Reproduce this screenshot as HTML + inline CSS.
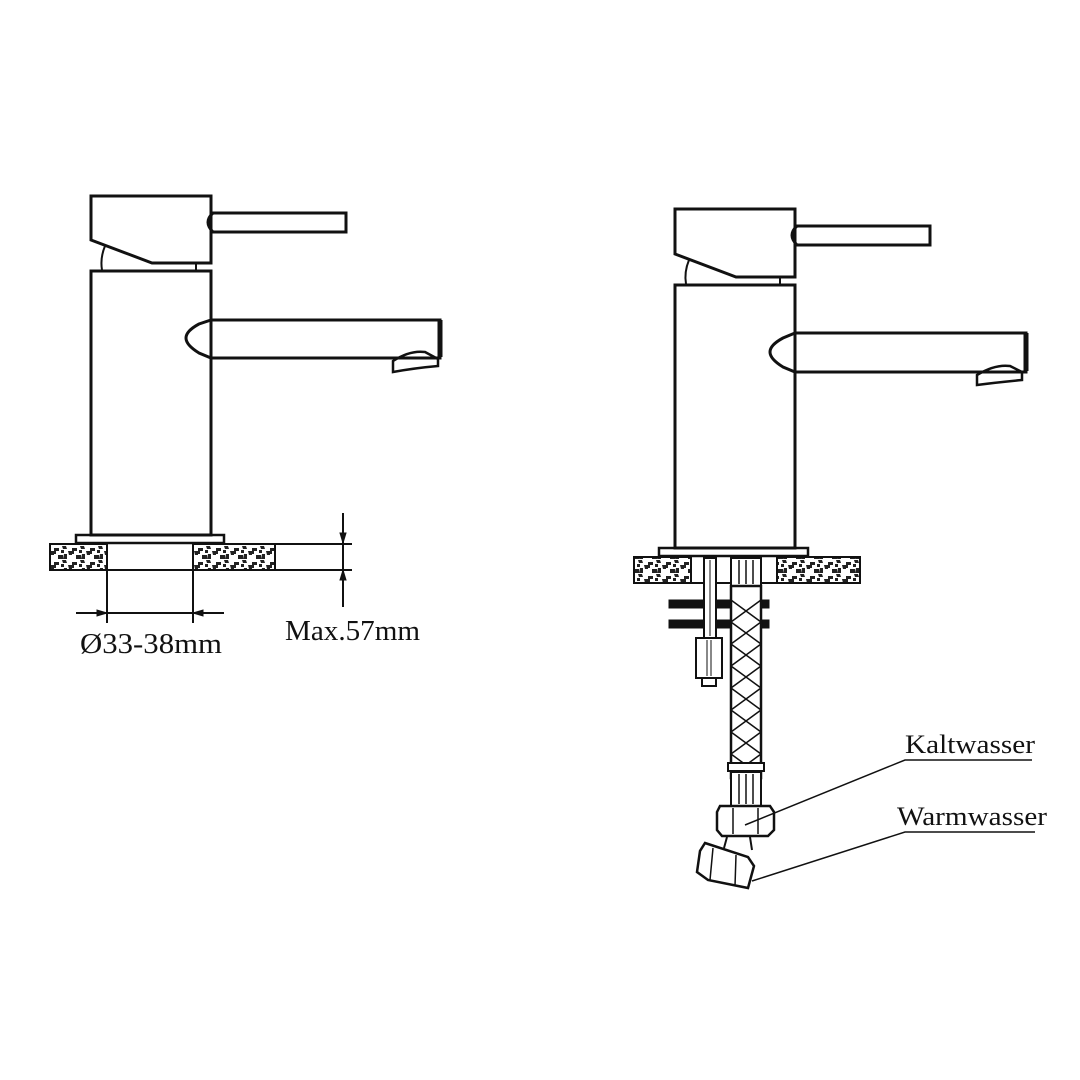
<!DOCTYPE html>
<html><head><meta charset="utf-8"><style>body{margin:0;background:#fff}svg{display:block}</style></head><body>
<svg width="1080" height="1080" viewBox="0 0 1080 1080" xmlns="http://www.w3.org/2000/svg">
<defs>
<pattern id="st" width="18" height="14" patternUnits="userSpaceOnUse">
<rect width="18" height="14" fill="#fff"/>
<path d="M0 2h5v3h-3v3h-2zM8 0h4l1 3h-4zM14 5h4v4h-3zM4 9h5v4h-5zM10 8h3v5h-4z M7 4h3v3h-3z" fill="#222"/>
</pattern>
</defs>
<g fill="none" stroke="#111" stroke-width="3">
<path d="M91 196H211V263H152L91 240Z"/>
<path d="M211 213H346V232H211" /><path d="M213 213Q203 222 213 232"/>
<path d="M105 246Q100 258 102 270" stroke-width="2"/>
<path d="M196 263V270" stroke-width="2"/>
<rect x="91" y="271" width="120" height="264"/>
<path d="M211 320H440V358H211L199 353Q186 345 186 338Q186 331 199 324Z"/>
<path d="M440 320V357" stroke-width="5"/>
<path d="M393 361Q410 350 425 352L438 359V366Q415 368 393 372Z" stroke-width="2.5"/>
<rect x="76" y="535" width="148" height="8" stroke-width="2.5"/>
<rect x="50" y="544" width="57" height="26" fill="url(#st)" stroke-width="2"/>
<rect x="193" y="544" width="82" height="26" fill="url(#st)" stroke-width="2"/>
<path d="M50 570H352M275 544H352M107 544V623M193 544V623M76 613H224M343 513V607" stroke-width="2"/>
<path d="M343 543l-3 -10h6zM343 570l-3 10h6zM107 613l-10 -3v6zM193 613l10 -3v6z" fill="#111" stroke-width="1"/>
<path d="M675 209H795V277H736L675 254Z"/>
<path d="M795 226H930V245H795"/><path d="M797 226Q787 235 797 245"/>
<path d="M689 260Q684 272 686 284" stroke-width="2"/>
<path d="M780 277V284" stroke-width="2"/>
<rect x="675" y="285" width="120" height="263"/>
<path d="M795 333H1026V372H795L783 367Q770 359 770 352Q770 345 783 338Z"/>
<path d="M1026 333V371" stroke-width="5"/>
<path d="M977 375Q995 364 1010 366L1022 372V380Q1000 382 977 385Z" stroke-width="2.5"/>
<rect x="659" y="548" width="149" height="8" stroke-width="2.5"/>
<rect x="634" y="557" width="57" height="26" fill="url(#st)" stroke-width="2"/>
<rect x="777" y="557" width="83" height="26" fill="url(#st)" stroke-width="2"/>
<path d="M691 583H777" stroke-width="2"/>
<rect x="669" y="600" width="100" height="8" fill="#111" stroke-width="1"/>
<rect x="669" y="620" width="100" height="8" fill="#111" stroke-width="1"/>
<rect x="704" y="558" width="12" height="80" fill="#fff" stroke-width="2"/>
<path d="M710 560V636" stroke-width="1"/>
<rect x="696" y="638" width="26" height="40" fill="#fff" stroke-width="2"/>
<path d="M707 640V676M711 640V676" stroke-width="1"/>
<rect x="702" y="678" width="14" height="8" stroke-width="2"/>
<rect x="731" y="558" width="30" height="28" fill="#fff" stroke-width="2"/>
<path d="M739 560V584M746 560V584M753 560V584" stroke-width="1.5"/>
<rect x="731" y="586" width="30" height="192" fill="#fff" stroke-width="2.5"/>
<path d="M731 600L761 622M731 622L761 644M731 644L761 666M731 666L761 688M731 688L761 710M731 710L761 732M731 732L761 754M731 754L761 776M761 600L731 622M761 622L731 644M761 644L731 666M761 666L731 688M761 688L731 710M761 710L731 732M761 732L731 754M761 754L731 776" stroke-width="1.5"/>
<rect x="728" y="763" width="36" height="8" fill="#fff" stroke-width="2"/>
<rect x="731" y="772" width="30" height="34" fill="#fff" stroke-width="2"/>
<path d="M739 774V804M746 774V804M753 774V804" stroke-width="1.5"/>
<path d="M720 806H770L774 812V830L768 836H722L717 830V812Z" fill="#fff" stroke-width="2.5"/>
<path d="M733 808V834M758 808V834" stroke-width="1.5"/>
<path d="M727 837L724 848M750 837L752 850" stroke-width="2"/>
<path d="M705 843L748 857L754 866L748 888L708 880L697 872L700 851Z" fill="#fff" stroke-width="2.5"/>
<path d="M713 848L710 880M736 855L735 886" stroke-width="1.5"/>
<path d="M745 825L905 760H1032M752 881L905 832H1035" stroke-width="1.5"/>
</g>
<g font-family="Liberation Serif, serif" fill="#111">
<text x="80" y="653" font-size="28" textLength="142" lengthAdjust="spacingAndGlyphs">Ø33-38mm</text>
<text x="285" y="640" font-size="28" textLength="135" lengthAdjust="spacingAndGlyphs">Max.57mm</text>
<text x="905" y="753" font-size="26" textLength="130" lengthAdjust="spacingAndGlyphs">Kaltwasser</text>
<text x="897" y="825" font-size="26" textLength="150" lengthAdjust="spacingAndGlyphs">Warmwasser</text>
</g>
</svg>
</body></html>
